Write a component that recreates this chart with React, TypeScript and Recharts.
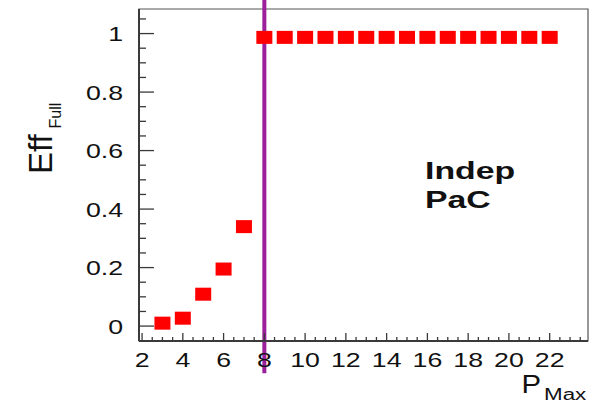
import { ScatterChart, Scatter, XAxis, YAxis, ReferenceLine, ReferenceArea } from "recharts";

// P_Max values and the measured full efficiency at each one
const P_MAX = [3, 4, 5, 6, 7, 8, 9, 10, 11, 12, 13, 14, 15, 16, 17, 18, 19, 20, 21, 22];
const EFF_FULL = [
  0.01, 0.027, 0.109, 0.195, 0.34, 0.987, 0.987, 0.987, 0.987, 0.987, 0.987, 0.987, 0.987,
  0.987, 0.987, 0.987, 0.987, 0.987, 0.987, 0.987,
];

const X_LABELS = [2, 4, 6, 8, 10, 12, 14, 16, 18, 20, 22];
const Y_LABELS = [0, 0.2, 0.4, 0.6, 0.8, 1];
const CUT_POSITION = 8;

// minor ticks every 0.5 on x and 0.05 on y
const X_TICKS = Array.from({ length: 44 }, (_, i) => 2 + i * 0.5);
const Y_TICKS = Array.from({ length: 22 }, (_, i) => Math.round(i * 5) / 100);

const X_DOMAIN: [number, number] = [1.85, 23.88];
const Y_DOMAIN: [number, number] = [-0.051, 1.084];

const data = P_MAX.map((p, i) => ({ p, eff: EFF_FULL[i] }));

const FONT = "'Liberation Sans', Arial, Helvetica, sans-serif";
const AXIS = "#3a3a3a";
const STRETCH = 1.37;

const XTick = (props: any) => {
  const { x, y, payload } = props;
  const v = payload.value;
  const major = X_LABELS.includes(v);
  return (
    <g>
      <line x1={x} x2={x} y1={y} y2={y - (major ? 8 : 4)} stroke={AXIS} strokeWidth={1.3} />
      {major && (
        <text
          transform={`translate(${x},${y + 26.3}) scale(${STRETCH},1)`}
          textAnchor="middle"
          fontSize={19.5}
          fontFamily={FONT}
          fill="#111"
        >
          {v}
        </text>
      )}
    </g>
  );
};

const YTick = (props: any) => {
  const { x, y, payload } = props;
  const v = payload.value;
  const major = Y_LABELS.some((l) => Math.abs(l - v) < 1e-6);
  return (
    <g>
      <line x1={x} x2={x + (major ? 15 : 7)} y1={y} y2={y} stroke={AXIS} strokeWidth={1.3} />
      {major && (
        <text
          transform={`translate(${x - 16},${y + 7.7}) scale(${STRETCH},1)`}
          textAnchor="end"
          fontSize={19.5}
          fontFamily={FONT}
          fill="#111"
        >
          {v}
        </text>
      )}
    </g>
  );
};

const Square = (props: any) => {
  const { cx, cy } = props;
  return <rect x={cx - 8} y={cy - 6.5} width={16} height={13} fill="#ff0000" />;
};

export default function App() {
  return (
    <div style={{ position: "fixed", left: 0, top: 0, width: 593, height: 402, background: "#fff" }}>
      <ScatterChart width={593} height={402} margin={{ top: 9, right: 5, bottom: 21, left: 79 }}>
        <XAxis
          type="number"
          dataKey="p"
          domain={X_DOMAIN}
          allowDataOverflow
          ticks={X_TICKS}
          interval={0}
          height={40}
          tickSize={0}
          tickMargin={0}
          tickLine={false}
          axisLine={{ stroke: AXIS, strokeWidth: 2 }}
          tick={XTick}
        />
        <YAxis
          type="number"
          dataKey="eff"
          domain={Y_DOMAIN}
          allowDataOverflow
          ticks={Y_TICKS}
          interval={0}
          width={60}
          tickSize={0}
          tickMargin={0}
          tickLine={false}
          axisLine={{ stroke: AXIS, strokeWidth: 2 }}
          tick={YTick}
        />
        <ReferenceArea
          x1={X_DOMAIN[0]}
          x2={X_DOMAIN[1]}
          y1={Y_DOMAIN[0]}
          y2={Y_DOMAIN[1]}
          fill="none"
          stroke="#555"
          strokeWidth={1.2}
          ifOverflow="visible"
        />
        <Scatter data={data} shape={Square} isAnimationActive={false} />
        <ReferenceLine
          segment={[
            { x: CUT_POSITION, y: 1.115 },
            { x: CUT_POSITION, y: -0.161 },
          ]}
          stroke="#9c1f9c"
          strokeWidth={4}
          ifOverflow="visible"
        />
      </ScatterChart>
      <svg
        width={593}
        height={402}
        style={{ position: "absolute", left: 0, top: 0, pointerEvents: "none" }}
        fontFamily={FONT}
      >
        <text transform="translate(51.7,174) rotate(-90)" fontSize={33} fill="#111">
          Eff
        </text>
        <text transform="translate(60.7,128.5) rotate(-90)" fontSize={16} fill="#111">
          Full
        </text>
        <text transform="translate(521.5,393.3) scale(1.15,1)" fontSize={25.5} fill="#111">
          P
        </text>
        <text transform="translate(544,400) scale(1.4,1)" fontSize={16} fill="#111">
          Max
        </text>
        <text transform="translate(425,179.2) scale(1.38,1)" fontSize={24.5} fontWeight="bold" fill="#111">
          Indep
        </text>
        <text transform="translate(425,208) scale(1.38,1)" fontSize={24.5} fontWeight="bold" fill="#111">
          PaC
        </text>
      </svg>
    </div>
  );
}
